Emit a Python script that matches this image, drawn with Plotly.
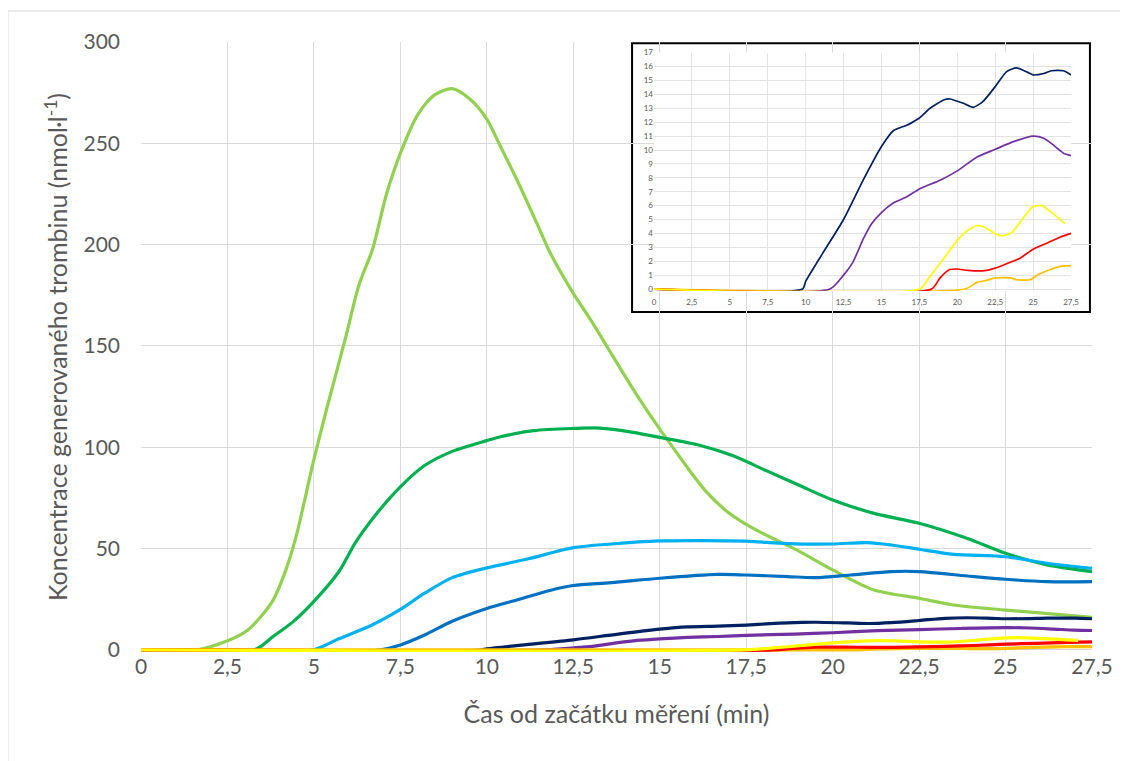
import plotly.graph_objects as go

# ---------------- data (main chart) ----------------
lg_x = [0, 1.6, 2.5, 3.1, 3.8, 4.2, 4.5, 5.0, 5.4, 5.9, 6.3, 6.7, 7.1, 7.5, 8.0, 8.5, 9.0, 9.5, 10.0, 10.35, 10.87, 11.54, 11.83, 12.5, 13.0, 13.5, 14.0, 14.5, 15.0, 15.4, 15.8, 16.35, 16.9, 17.5, 18.1, 19.0, 20.0, 21.2, 22.5, 23.5, 25.0, 27.5]
lg_y = [0, 0, 4.5, 10, 24, 40, 57, 94, 121, 153, 180, 198, 225, 245, 264, 274, 277, 272, 262, 250, 232, 207, 196, 176, 163, 149, 135, 121.5, 109, 99.5, 90, 78, 69, 62, 56.5, 49, 39.5, 29.6, 25.5, 22.2, 19.7, 16.1]

dg_x = [0, 3.27, 3.8, 4.4, 5.0, 5.72, 6.2, 6.8, 7.5, 8.2, 9.0, 10.0, 10.4, 11.35, 12.5, 13.27, 14.23, 15.0, 16.15, 17.1, 18.08, 19.0, 20.0, 21.2, 22.5, 23.9, 25.0, 26.2, 27.5]
dg_y = [0, 0, 6.4, 14, 24, 38.6, 53, 67, 80.5, 91, 98, 103.3, 105.2, 108.2, 109.3, 109.5, 107.4, 104.9, 101, 95.9, 88.5, 81.5, 74, 67.4, 62.5, 55, 47.7, 42, 38.7]

lb_x = [0, 4.95, 5.72, 6.68, 7.5, 8.2, 9.0, 10.0, 11.2, 12.5, 13.6, 15.0, 16.2, 17.5, 18.7, 20.0, 21.0, 21.7, 22.5, 23.5, 25.0, 26.2, 27.5]
lb_y = [0, 0, 5.5, 12.3, 20, 28, 35.7, 40.5, 45, 50.5, 52.3, 53.8, 54, 53.7, 52.5, 52.3, 53, 51.8, 49.7, 47.2, 46, 42.8, 40.3]

mb_x = [0, 6.87, 7.5, 8.2, 9.0, 10.0, 10.94, 11.85, 12.5, 13.6, 15.0, 16.66, 17.5, 18.7, 19.5, 20.5, 21.7, 22.5, 23.9, 25.0, 26.2, 27.5]
mb_y = [0, 0, 2.5, 7.4, 14.2, 20.5, 25, 29.5, 31.8, 33.2, 35.4, 37.3, 37, 36.2, 35.7, 37, 38.7, 38.7, 36.5, 34.9, 33.7, 33.7]

# low series (shown in both the main chart and the inset)
nv_x = [0, 9.8, 10.0, 11.14, 12.5, 13.8, 15.0, 15.8, 16.7, 17.5, 18.2, 19.1, 19.5, 20.4, 21.05, 21.7, 22.5, 23.25, 23.9, 24.6, 25.0, 25.7, 26.2, 27.0, 27.5]
nv_y = [0, 0, 0.55, 2.6, 5.0, 7.85, 10.25, 11.4, 11.8, 12.3, 13.0, 13.6, 13.67, 13.36, 13.07, 13.5, 14.56, 15.64, 15.9, 15.6, 15.4, 15.5, 15.7, 15.7, 15.4]

pu_x = [0, 11.6, 12.5, 13.1, 13.8, 14.35, 15.0, 15.8, 16.7, 17.5, 18.9, 20.0, 21.3, 22.5, 23.7, 25.0, 25.7, 26.4, 27.0, 27.5]
pu_y = [0, 0, 1.0, 1.9, 3.6, 4.7, 5.5, 6.2, 6.65, 7.2, 7.85, 8.5, 9.5, 10.05, 10.6, 11.0, 10.85, 10.3, 9.77, 9.6]

ye_x = [0, 17.5, 18.2, 18.97, 20.0, 20.6, 21.3, 21.8, 22.5, 23.0, 23.6, 24.4, 25.0, 25.6, 26.1, 26.8, 27.1]
ye_y = [0, 0, 0.9, 2.0, 3.5, 4.15, 4.57, 4.45, 3.97, 3.83, 4.07, 5.2, 5.94, 6.0, 5.6, 4.98, 4.7]

rd_x = [0, 18.3, 18.86, 19.5, 20.0, 20.7, 21.8, 22.5, 23.25, 24.1, 25.0, 25.9, 26.8, 27.5]
rd_y = [0, 0, 0.8, 1.4, 1.44, 1.34, 1.32, 1.5, 1.82, 2.2, 2.87, 3.3, 3.74, 4.0]

or_x = [0, 20.5, 21.3, 21.9, 22.5, 23.5, 23.9, 24.8, 25.4, 26.1, 26.8, 27.5]
or_y = [0, 0, 0.48, 0.62, 0.8, 0.8, 0.67, 0.67, 1.08, 1.39, 1.63, 1.68]

main_series = [
    (lg_x, lg_y, "#92D050"),
    (dg_x, dg_y, "#00B050"),
    (lb_x, lb_y, "#00B0F0"),
    (mb_x, mb_y, "#0070C0"),
    (nv_x, nv_y, "#002060"),
    (pu_x, pu_y, "#7030A0"),
    (or_x, or_y, "#FFC000"),
    (rd_x, rd_y, "#FF0000"),
    (ye_x, ye_y, "#FFFF00"),
]
inset_series = main_series[4:]

x_title = "Čas od začátku měření (min)"
y_title = "Koncentrace generovaného trombinu (nmol·l<sup>-1</sup>)"

FONT = "Lato, 'Open Sans', sans-serif"
GREY = "#595959"
GRID = "#d9d9d9"

fig = go.Figure()
for xs, ys, col in main_series:
    fig.add_trace(go.Scatter(x=xs, y=ys, mode="lines", xaxis="x", yaxis="y",
                             line=dict(color=col, width=3.2, shape="spline", smoothing=0.8),
                             showlegend=False, hoverinfo="skip"))
for xs, ys, col in inset_series:
    fig.add_trace(go.Scatter(x=xs, y=ys, mode="lines", xaxis="x2", yaxis="y2",
                             line=dict(color=col, width=1.7, shape="spline", smoothing=0.6),
                             showlegend=False, hoverinfo="skip"))

fig.update_layout(
    width=1120, height=753,
    margin=dict(l=133, r=36, t=34, b=109),
    paper_bgcolor="white", plot_bgcolor="white",
    separators=", ",
    font=dict(family=FONT, color=GREY),
    xaxis=dict(domain=[0, 1], range=[0, 27.5], dtick=2.5, tick0=0,
               showgrid=True, gridcolor=GRID, gridwidth=1.3,
               zeroline=False, showline=False, ticks="",
               tickfont=dict(size=21, color=GREY),
               title=dict(text=x_title, font=dict(size=25, color=GREY), standoff=28)),
    yaxis=dict(domain=[0, 1], range=[-1, 300], dtick=50, tick0=0,
               showgrid=True, gridcolor=GRID, gridwidth=1.3,
               zeroline=False, showline=False, ticks="",
               tickfont=dict(size=21, color=GREY), ticklabelstandoff=20,
               title=dict(text=y_title, font=dict(size=25, color=GREY), standoff=8)),
    xaxis2=dict(domain=[0.5394, 0.978], anchor="y2", range=[0, 27.5], dtick=2.5, tick0=0,
                showgrid=True, gridcolor="#e3e3e3", gridwidth=1,
                zeroline=False, showline=False, ticks="",
                tickfont=dict(size=8, color=GREY), ticklabelstandoff=5),
    yaxis2=dict(domain=[0.5916, 0.9825], anchor="x2", range=[-0.15, 17], dtick=1, tick0=0,
                showgrid=True, gridcolor="#e3e3e3", gridwidth=1,
                zeroline=False, showline=False, ticks="",
                tickfont=dict(size=8, color=GREY)),
    shapes=[
        # outer chart frame
        dict(type="rect", xref="paper", yref="paper", x0=-0.1399, x1=1.06, y0=-0.2, y1=1.0508,
             line=dict(color="#d9d9d9", width=1), fillcolor="rgba(0,0,0,0)", layer="below"),
        # inset box (white panel covering the main grid)
        dict(type="rect", xref="x", yref="y", x0=14.2, x1=27.44, y0=166.8, y1=299.4,
             line=dict(color="black", width=2), fillcolor="white", layer="below"),
    ],
)

fig.write_html("out.html")
